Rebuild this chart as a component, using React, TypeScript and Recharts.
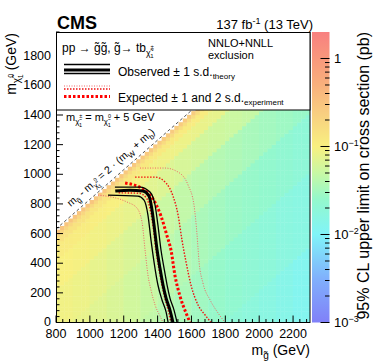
import React from 'react';
import { ComposedChart, XAxis, YAxis, Scatter, ReferenceLine } from 'recharts';

// heat map: 95% CL upper limit (pb), read per 100 GeV gluino column and per band of
// mass splitting (m_gluino - m_chi); bands are lower edges in GeV
const gluinoColumns = [800, 900, 1000, 1100, 1200, 1300, 1400, 1500, 1600, 1700, 1800, 1900, 2000, 2100, 2200];
const splittingBands = [200, 225, 250, 300, 400, 600, 900, 1300, 1800];
const limitByBand: (number | null)[][] = [
  [0.3, 0.3, 0.29, 0.28, 0.28, 0.27, 0.26, 0.26, 0.25, 0.25, 0.24, 0.24, 0.23, 0.23, 0.22],
  [0.19, 0.19, 0.18, 0.18, 0.17, 0.17, 0.17, 0.16, 0.16, 0.16, 0.15, 0.15, 0.15, 0.14, 0.14],
  [0.14, 0.14, 0.13, 0.13, 0.125, 0.12, 0.12, 0.115, 0.11, 0.11, 0.105, 0.1, 0.1, 0.095, 0.095],
  [0.115, 0.11, 0.105, 0.1, 0.095, 0.09, 0.088, 0.085, 0.082, 0.08, 0.077, 0.074, 0.072, 0.07, 0.068],
  [0.1, 0.096, 0.09, 0.084, 0.078, 0.072, 0.067, 0.062, 0.058, 0.055, 0.052, 0.049, 0.047, 0.045, 0.043],
  [0.09, 0.085, 0.078, 0.071, 0.064, 0.057, 0.051, 0.046, 0.042, 0.039, 0.036, 0.033, 0.031, 0.029, 0.027],
  [null, 0.079, 0.071, 0.064, 0.057, 0.05, 0.044, 0.039, 0.034, 0.031, 0.028, 0.026, 0.024, 0.022, 0.02],
  [null, null, null, null, null, 0.046, 0.04, 0.035, 0.03, 0.026, 0.023, 0.021, 0.019, 0.017, 0.016],
  [null, null, null, null, null, null, null, null, null, null, 0.02, 0.018, 0.016, 0.014, 0.012],
];

// exclusion contours, [m_gluino, m_chi] in GeV
const observed = [[1150, 887], [1237, 893], [1314, 887], [1349, 853], [1367, 759], [1379, 657], [1397, 489], [1414, 367], [1432, 253], [1450, 165], [1473, 84], [1491, 0]];
const observedUp = [[1148, 914], [1296, 914], [1355, 880], [1385, 792], [1402, 657], [1420, 489], [1438, 367], [1456, 253], [1473, 165], [1497, 84], [1515, 0]];
const observedDown = [[1107, 860], [1284, 853], [1320, 826], [1343, 725], [1361, 556], [1379, 408], [1402, 253], [1426, 152], [1450, 71], [1462, 0]];
const expected = [[1208, 941], [1314, 900], [1373, 833], [1420, 718], [1456, 583], [1479, 489], [1503, 314], [1532, 179], [1568, 64], [1592, 0]];
const expectedUp1 = [[1267, 981], [1385, 981], [1450, 941], [1491, 853], [1521, 725], [1544, 556], [1568, 408], [1597, 253], [1639, 118], [1680, 51], [1716, 0]];
const expectedUp2 = [[1296, 1042], [1444, 1042], [1521, 1015], [1580, 927], [1615, 792], [1633, 590], [1645, 408], [1668, 266], [1710, 152], [1757, 64], [1798, 0]];
const expectedDown1 = [[1170, 875], [1290, 872], [1335, 838], [1360, 740], [1374, 640], [1390, 490], [1407, 365], [1425, 253], [1443, 162], [1463, 80], [1478, 0]];
const expectedDown2 = [[1048, 860], [1219, 813], [1278, 772], [1308, 678], [1326, 489], [1343, 320], [1361, 219], [1385, 118], [1414, 44], [1432, 0]];

const xMajorLabels = [800, 1000, 1200, 1400, 1600, 1800, 2000, 2200];
const yMajorLabels = [0, 200, 400, 600, 800, 1000, 1200, 1400, 1600, 1800];
const colorbarDecades = [-3, -2, -1, 0];

// m_gluino - m_chi = 2 (m_W + m_b)
const DIAG = 2 * (80.4 + 4.18);

const FONT = '"Liberation Sans", Arial, Helvetica, sans-serif';
const W = 374;
const H = 363;
const X_MIN = 800, X_MAX = 2300, Y_MIN = 0, Y_MAX = 1960;
const PL = 56, PT = 32, PR = 310, PB = 322.5;
const PW = PR - PL, PH = PB - PT;
const BIN = 25;
const CELL_W = (BIN * PW) / (X_MAX - X_MIN);
const CELL_H = (BIN * PH) / (Y_MAX - Y_MIN);
const CB_X = 312, CB_W = 17.5;
const CB_LOG_MAX = Math.log10(2);

// palette (log10 of limit -> colour)
const colorStops: [number, string][] = [
  [-3, '#8080f8'], [-2.5, '#80b0fc'], [-2, '#80f4f8'], [-1.6, '#94f8cc'], [-1.3, '#c8f8a4'],
  [-1, '#f8f080'], [-0.6, '#f8cc80'], [-0.3, '#f8b07c'], [0, '#f8987c'], [CB_LOG_MAX, '#f88080'],
];

const rgb = (h: string) => [1, 3, 5].map((i) => parseInt(h.slice(i, i + 2), 16));
function limitColor(v: number) {
  const l = Math.max(-3, Math.min(CB_LOG_MAX, Math.log10(v)));
  for (let i = 0; i < colorStops.length - 1; i++) {
    const [a, ca] = colorStops[i];
    const [b, cb] = colorStops[i + 1];
    if (l <= b) {
      const t = (l - a) / (b - a);
      const A = rgb(ca), B = rgb(cb);
      return `rgb(${A.map((c, k) => Math.round(c + (B[k] - c) * t)).join(',')})`;
    }
  }
  return colorStops[colorStops.length - 1][1];
}

const heatCells: { x: number; y: number; v: number }[] = [];
for (let mg = X_MIN; mg < X_MAX; mg += BIN) {
  const col = Math.floor((mg - gluinoColumns[0]) / 100);
  for (let mc = 0; mc < 1450 && mg - mc >= splittingBands[0]; mc += BIN) {
    let band = 0;
    splittingBands.forEach((e, i) => { if (mg - mc >= e) band = i; });
    const v = limitByBand[band][col];
    if (v != null) heatCells.push({ x: mg + BIN / 2, y: mc + BIN / 2, v });
  }
}

const toPts = (arr: number[][]) => arr.map(([x, y]) => ({ x, y }));

const STY = {
  obs: { stroke: '#000', strokeWidth: 3 },
  obsBand: { stroke: '#000', strokeWidth: 1.3 },
  exp: { stroke: '#ff0000', strokeWidth: 3, strokeDasharray: '2.5 2' },
  exp1: { stroke: '#f01010', strokeWidth: 1.4, strokeDasharray: '1.5 1.5' },
  exp2: { stroke: '#ee6666', strokeWidth: 1, strokeDasharray: '1 1.5' },
};

const contours = [
  { data: expectedUp2, s: STY.exp2 },
  { data: expectedDown2, s: STY.exp2 },
  { data: expectedUp1, s: STY.exp1 },
  { data: expectedDown1, s: STY.exp1 },
  { data: expected, s: STY.exp },
  { data: observedUp, s: STY.obsBand },
  { data: observedDown, s: STY.obsBand },
  { data: observed, s: STY.obs },
];

const xTicks: number[] = [];
for (let v = X_MIN; v <= X_MAX; v += 40) xTicks.push(v);
const yTicks: number[] = [];
for (let v = Y_MIN; v <= Y_MAX; v += 40) yTicks.push(v);

const HeatCell = (props: any) => {
  const { cx, cy, payload } = props;
  return (
    <rect x={cx - CELL_W / 2 - 0.2} y={cy - CELL_H / 2 - 0.2} width={CELL_W + 0.4} height={CELL_H + 0.4} fill={limitColor(payload.v)} />
  );
};

const XTick = (props: any) => {
  const { x, y, payload } = props;
  const major = xMajorLabels.includes(payload.value);
  return (
    <g>
      <line x1={x} x2={x} y1={y} y2={y - (major ? 7 : 3.5)} stroke="#000" />
      {major && (
        <text x={x} y={y + 15.5} textAnchor="middle" fontSize={12.5} fontFamily={FONT} fill="#000">{payload.value}</text>
      )}
    </g>
  );
};

const YTick = (props: any) => {
  const { x, y, payload } = props;
  const major = yMajorLabels.includes(payload.value);
  return (
    <g>
      <line x1={x} x2={x + (major ? 7 : 3.5)} y1={y} y2={y} stroke="#000" />
      {major && (
        <text x={x - 5} y={y + (payload.value === 0 ? 3 : 4)} textAnchor="end" fontSize={12.5} fontFamily={FONT} fill="#000">{payload.value}</text>
      )}
    </g>
  );
};

const NoPoint = () => <g />;

// subscript helpers for svg text
const sub = (fs: number, s: string, after: string, k: string) => [
  <tspan key={k + 'a'} fontSize={fs * 0.72} dy={fs * 0.3}>{s}</tspan>,
  <tspan key={k + 'b'} fontSize={fs} dy={-fs * 0.3}>{after}</tspan>,
];
const chi = (fs: number, sup: string, after: string, k: string) => [
  <tspan key={k + 'a'} fontSize={fs * 0.72} dy={fs * 0.3}>χ̃</tspan>,
  <tspan key={k + 'b'} fontSize={fs * 0.5} dy={-fs * 0.55}>{sup}</tspan>,
  <tspan key={k + 'c'} fontSize={fs * 0.5} dx={-fs * 0.3} dy={fs * 0.75}>1</tspan>,
  <tspan key={k + 'd'} fontSize={fs} dy={-fs * 0.5}>{after}</tspan>,
];

const cbY = (lg: number) => PB - ((lg + 3) / (CB_LOG_MAX + 3)) * PH;

function Overlay() {
  const minor: number[] = [];
  for (let d = -3; d < 0; d++) for (let m = 2; m <= 9; m++) minor.push(d + Math.log10(m));
  return (
    <svg width={W} height={H} style={{ position: 'absolute', left: 0, top: 0, pointerEvents: 'none' }} fontFamily={FONT}>
      <defs>
        <linearGradient id="cbGrad" x1="0" y1="1" x2="0" y2="0">
          {colorStops.map(([l, c]) => (
            <stop key={l} offset={(l + 3) / (CB_LOG_MAX + 3)} stopColor={c} />
          ))}
        </linearGradient>
      </defs>

      {/* frame */}
      <rect x={PL + 0.5} y={PT + 0.5} width={PW - 0.5} height={PH - 0.5} fill="none" stroke="#000" />

      {/* legend box */}
      <rect x={PL + 0.5} y={PT + 0.5} width={PW - 0.5} height={77.5} fill="#fff" stroke="#000" />
      <text x={62} y={52} fontSize={12}>
        {'pp → g\u0303g\u0303, g\u0303→ tb'}
        {chi(12, '±', '', 'l')}
      </text>
      <text x={208} y={46.5} fontSize={11}>NNLO+NNLL</text>
      <text x={208} y={58.5} fontSize={11}>exclusion</text>

      <line x1={64} x2={110} y1={64.5} y2={64.5} {...STY.obsBand} />
      <line x1={64} x2={110} y1={70} y2={70} {...STY.obs} />
      <line x1={64} x2={110} y1={73.5} y2={73.5} {...STY.obsBand} />
      <text x={118} y={76} fontSize={12}>
        {'Observed ± 1 s.d.'}
        <tspan fontSize={8} dy={3}>theory</tspan>
      </text>

      <line x1={64} x2={110} y1={86} y2={86} {...STY.exp2} />
      <line x1={64} x2={110} y1={89} y2={89} {...STY.exp1} />
      <line x1={64} x2={110} y1={96.5} y2={96.5} {...STY.exp} />
      <text x={118} y={101.5} fontSize={12}>
        {'Expected ± 1 and 2 s.d.'}
        <tspan fontSize={8} dy={3}>experiment</tspan>
      </text>

      {/* note under the legend */}
      <text x={66} y={121} fontSize={11}>
        {'m'}
        {chi(11, '±', ' = m', 'a')}
        {chi(11, '0', ' + 5 GeV', 'b')}
      </text>

      {/* diagonal label */}
      <text transform="translate(113,170) rotate(-41.2)" textAnchor="middle" fontSize={10.5}>
        {'m'}
        {sub(10.5, 'g\u0303', ' - m', 'g')}
        {chi(10.5, '0', ' = 2 · (m', 'c')}
        {sub(10.5, 'W', ' + m', 'w')}
        {sub(10.5, 'b', ')', 'bb')}
      </text>

      {/* titles */}
      <text x={57} y={28.5} fontSize={18} fontWeight="bold">CMS</text>
      <text x={313} y={28.5} fontSize={13} textAnchor="end">
        {'137 fb'}
        <tspan fontSize={9} dy={-5}>-1</tspan>
        <tspan fontSize={13} dy={5}> (13 TeV)</tspan>
      </text>

      <text x={310} y={355} fontSize={14} textAnchor="end">
        {'m'}
        {sub(14, 'g\u0303', ' (GeV)', 'x')}
      </text>
      <text transform="translate(16,33) rotate(-90)" fontSize={14} textAnchor="end">
        {'m'}
        {chi(14, '0', ' (GeV)', 'y')}
      </text>

      {/* colour bar */}
      <rect x={CB_X} y={PT} width={CB_W} height={PH} fill="url(#cbGrad)" />
      {colorbarDecades.map((d) => (
        <line key={'M' + d} x1={CB_X + CB_W} x2={CB_X + CB_W - 9} y1={cbY(d)} y2={cbY(d)} stroke="#000" />
      ))}
      {minor.map((l) => (
        <line key={'m' + l} x1={CB_X + CB_W} x2={CB_X + CB_W - 4.5} y1={cbY(l)} y2={cbY(l)} stroke="#000" />
      ))}
      {colorbarDecades.map((d) =>
        d === 0 ? (
          <text key={'t' + d} x={334} y={cbY(d) + 4.5} fontSize={13}>1</text>
        ) : (
          <text key={'t' + d} x={334} y={cbY(d) + 4.5} fontSize={13}>
            {'10'}
            <tspan fontSize={9} dy={-5}>{`−${-d}`}</tspan>
          </text>
        )
      )}
      <text transform="translate(369,32) rotate(-90)" fontSize={16} textAnchor="end">
        95% CL upper limit on cross section (pb)
      </text>
    </svg>
  );
}

export default function App() {
  return (
    <div style={{ position: 'absolute', left: 0, top: 0, width: W, height: H, background: '#fff' }}>
      <ComposedChart width={W} height={H} margin={{ top: PT, right: W - PR, bottom: 0, left: 0 }}>
        <XAxis
          type="number"
          dataKey="x"
          domain={[X_MIN, X_MAX]}
          allowDataOverflow
          ticks={xTicks}
          interval={0}
          height={H - PB}
          axisLine={false}
          tickLine={false}
          tickSize={0}
          tickMargin={0}
          tick={<XTick />}
        />
        <YAxis
          type="number"
          dataKey="y"
          domain={[Y_MIN, Y_MAX]}
          allowDataOverflow
          ticks={yTicks}
          interval={0}
          width={PL}
          axisLine={false}
          tickLine={false}
          tickSize={0}
          tickMargin={0}
          tick={<YTick />}
        />
        <Scatter data={heatCells} shape={<HeatCell />} isAnimationActive={false} />
        <ReferenceLine
          segment={[{ x: X_MIN, y: X_MIN - DIAG }, { x: Y_MAX + DIAG, y: Y_MAX }]}
          stroke="#555"
          strokeDasharray="3 2.5"
          strokeWidth={1}
        />
        {contours.map((c, i) => (
          <Scatter
            key={i}
            data={toPts(c.data)}
            shape={NoPoint}
            line={{ ...c.s, fill: 'none' }}
            lineJointType="monotoneX"
            isAnimationActive={false}
          />
        ))}
      </ComposedChart>
      <Overlay />
    </div>
  );
}
